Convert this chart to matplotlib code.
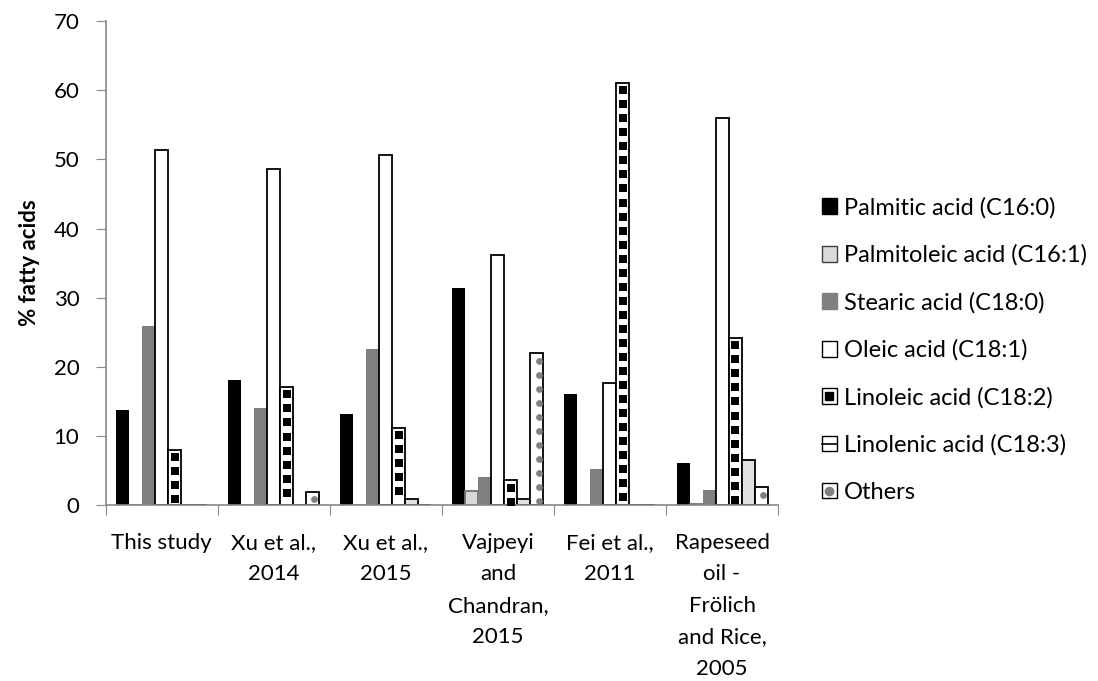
import numpy as np
import matplotlib.pyplot as plt
from matplotlib.patches import Patch
from matplotlib.lines import Line2D

plt.rcParams['font.family'] = ['Lato', 'DejaVu Sans']

studies = ["This study", "Xu et al.,\n2014", "Xu et al.,\n2015",
           "Vajpeyi\nand\nChandran,\n2015", "Fei et al.,\n2011",
           "Rapeseed\noil -\nFrölich\nand Rice,\n2005"]
series = ["Palmitic acid (C16:0)", "Palmitoleic acid (C16:1)", "Stearic acid (C18:0)",
          "Oleic acid (C18:1)", "Linoleic acid (C18:2)", "Linolenic acid (C18:3)", "Others"]

palmitic = [13.8, 18.1, 13.2, 31.4, 16.0, 6.1]
palmitoleic = [0, 0, 0, 2.0, 0, 0.2]
stearic = [25.9, 14.0, 22.6, 4.0, 5.2, 2.2]
oleic = [51.3, 48.6, 50.7, 36.1, 17.7, 56.0]
linoleic = [8.0, 17.1, 11.2, 3.6, 61.1, 24.2]
linolenic = [0, 0, 0.9, 0.9, 0, 6.5]
others = [0, 1.9, 0, 22.0, 0, 2.6]

values = [palmitic, palmitoleic, stearic, oleic, linoleic, linolenic, others]
faces = ['black', '#d9d9d9', '#808080', 'white', 'white', '#e2e2e2', 'white']
edges = ['none', '#707070', 'none', 'black', 'black', 'black', 'black']

fig = plt.figure(figsize=(10.98, 6.81), dpi=100)
ax = fig.add_axes([0.0963, 0.2584, 0.6123, 0.7106])

x = np.arange(len(studies))
w = 0.116
for i, vals in enumerate(values):
    pos = x + (i - 3) * w
    ax.bar(pos, vals, width=w, color=faces[i], edgecolor=edges[i],
           linewidth=1.3, zorder=2)
    # pattern marks for linoleic / others
    if i in (4, 6):
        for p, v in zip(pos, vals):
            if v <= 0.5:
                continue
            ys = np.arange(v - 1.1, 0.3, -2.03)
            if i == 4:
                ax.scatter(np.full(len(ys), p), ys, marker='s', s=26, color='black',
                           linewidths=0, zorder=3)
            else:
                ax.scatter(np.full(len(ys), p + 0.015), ys, marker='o', s=24,
                           color='#808080', linewidths=0, zorder=3)

ax.set_xlim(-0.5, 5.5)
ax.set_ylim(0, 70)
ax.set_yticks(np.arange(0, 71, 10))
ax.set_xticks(np.arange(-0.5, 5.6, 1))
ax.set_xticklabels([])
ax.set_xticks(x, minor=True)
ax.set_xticklabels(studies, minor=True, fontsize=16, linespacing=1.72)
ax.tick_params(axis='x', which='minor', length=0, pad=20)
ax.tick_params(axis='x', which='major', length=7, color='#888888', direction='out')
ax.tick_params(axis='y', length=7, color='#888888', labelsize=16, pad=12)
for s in ['top', 'right']:
    ax.spines[s].set_visible(False)
for s in ['left', 'bottom']:
    ax.spines[s].set_color('#888888')
    ax.spines[s].set_linewidth(1.2)
ax.set_ylabel('% fatty acids', fontsize=16, fontweight='bold', labelpad=10)

handles = [
    Patch(facecolor='black', edgecolor='black'),
    Patch(facecolor='#d9d9d9', edgecolor='#404040'),
    Patch(facecolor='#808080', edgecolor='#808080'),
    Patch(facecolor='white', edgecolor='black'),
    (Patch(facecolor='white', edgecolor='black'),
     Line2D([], [], marker='s', markersize=6, color='black', linestyle='none')),
    (Patch(facecolor='white', edgecolor='black'),
     Line2D([0, 1], [0.5, 0.5], color='black', linewidth=1.2)),
    (Patch(facecolor='white', edgecolor='black'),
     Line2D([], [], marker='o', markersize=6, color='#808080', linestyle='none')),
]
fig.legend(handles, series, loc='upper left', bbox_to_anchor=(0.729, 0.742),
           frameon=False, fontsize=17, handlelength=0.65, handleheight=0.65,
           handletextpad=0.3, labelspacing=1.1)

plt.savefig('out.png', dpi=100)
